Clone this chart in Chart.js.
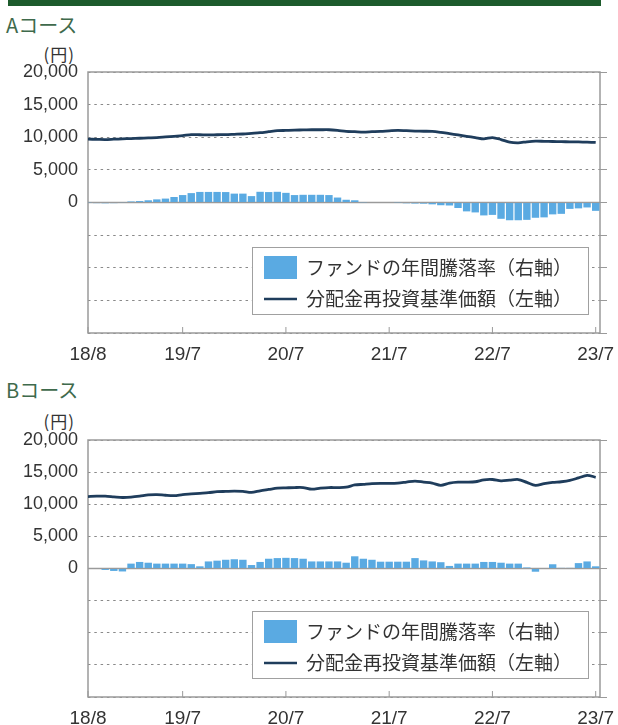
<!DOCTYPE html>
<html lang="ja">
<head>
<meta charset="utf-8">
<script src="https://cdn.jsdelivr.net/npm/chart.js@4.4.0/dist/chart.umd.min.js"></script>
<style>
  body { margin: 0; width: 618px; height: 725px; position: relative; overflow: hidden; background: #fff; font-family: "Noto Sans CJK JP", sans-serif; }
  .band { position: absolute; left: 8px; top: 0; width: 593px; height: 6px; background: #1d5b2c; }
  .course { position: absolute; left: 6px; font-size: 20px; line-height: 20px; color: #3f6a4c; }
  .unit { position: absolute; right: 543px; font-size: 17px; line-height: 17px; color: #333; letter-spacing: 1px; }
  canvas { position: absolute; left: 0; }
</style>
</head>
<body>
<div class="band"></div>
<div class="course" style="top:15px">Aコース</div>
<div class="unit" style="top:45px">(円)</div>
<canvas id="chartA" width="618" height="370" style="top:0"></canvas>
<div class="course" style="top:380px">Bコース</div>
<div class="unit" style="top:412px">(円)</div>
<canvas id="chartB" width="618" height="355" style="top:370px"></canvas>
<script>
// months 18/8 .. 23/7 (index 0..59)
const tickIdx = [0, 11, 23, 35, 47, 59];
const tickLabels = ['18/8', '19/7', '20/7', '21/7', '22/7', '23/7'];

const barLabel = 'ファンドの年間騰落率（右軸）';
const lineLabel = '分配金再投資基準価額（左軸）';

// Aコース 分配金再投資基準価額 (円)
const navA = [9700, 9680, 9650, 9700, 9750, 9800, 9850, 9900, 9950, 10050,
  10150, 10250, 10400, 10380, 10350, 10380, 10400, 10450, 10500, 10600,
  10700, 10850, 11000, 11050, 11100, 11120, 11150, 11150, 11150, 11050,
  10900, 10850, 10800, 10850, 10900, 10980, 11050, 11000, 10950, 10920,
  10900, 10750, 10550, 10350, 10150, 9950, 9750, 9950, 9650, 9250,
  9150, 9300, 9400, 9380, 9350, 9320, 9300, 9280, 9250, 9200];
// Aコース 年間騰落率 (%)
const retA = [-0.2, -0.5, -0.6, -0.5, 0.3, 0.8, 1.1, 1.7, 2.4, 3.0,
  4.2, 5.7, 7.2, 8.1, 8.1, 8.1, 8.0, 6.8, 6.8, 4.9,
  8.2, 8.0, 8.2, 7.4, 5.7, 5.9, 5.9, 5.9, 5.7, 3.8,
  2.1, 1.7, 0.2, 0, 0, 0, -0.2, -0.6, -0.8, -0.9,
  -1.4, -2.1, -2.3, -4.2, -6.8, -7.6, -9.9, -9.5, -12.5, -13.6,
  -13.6, -13.3, -11.7, -11.4, -9.1, -8.7, -4.9, -4.5, -3.8, -6.4];

// Bコース 分配金再投資基準価額 (円)
const navB = [11200, 11250, 11250, 11150, 11050, 11100, 11250, 11450, 11500, 11400,
  11350, 11500, 11600, 11700, 11800, 11950, 12000, 12050, 12000, 11850,
  12100, 12300, 12500, 12550, 12600, 12600, 12350, 12500, 12600, 12600,
  12650, 13000, 13100, 13200, 13250, 13250, 13300, 13450, 13600, 13450,
  13300, 12950, 13300, 13450, 13450, 13500, 13800, 13850, 13650, 13750,
  13850, 13400, 12950, 13200, 13400, 13500, 13700, 14100, 14500, 14200];
// Bコース 年間騰落率 (%)
const retB = [0, -0.4, -1.1, -1.9, -2.3, 3.8, 5.1, 4.5, 3.8, 3.8,
  3.8, 3.8, 3.4, 1.7, 5.5, 6.1, 6.8, 7.2, 6.8, 2.7,
  5.1, 7.6, 8.1, 8.3, 8.1, 7.6, 5.5, 5.5, 5.5, 5.5,
  4.5, 9.5, 7.6, 6.8, 5.3, 5.3, 5.3, 5.3, 8.1, 6.3,
  5.5, 4.9, 2.0, 3.8, 3.8, 3.8, 5.1, 5.1, 4.5, 3.8,
  3.8, 0.8, -2.5, 0.4, 3.3, 0.5, 0.5, 4.2, 5.5, 1.7];

const barColor = '#5aaae2';
const lineColor = '#1f3d5c';
const frameColor = '#9a9a9a';
const numFont = { family: 'Liberation Sans', size: 18 };

const framePlugin = {
  id: 'frame',
  beforeDatasetsDraw(chart) {
    const a = chart.chartArea, ctx = chart.ctx;
    const y0 = chart.scales.y.getPixelForValue(0);
    ctx.save();
    ctx.strokeStyle = frameColor;
    ctx.lineWidth = 1.5;
    ctx.strokeRect(a.left, a.top, a.right - a.left, a.bottom - a.top);
    ctx.beginPath();
    ctx.moveTo(a.left, y0);
    ctx.lineTo(a.right, y0);
    ctx.stroke();
    // x tick marks drawn inward
    ctx.lineWidth = 1;
    tickIdx.forEach(i => {
      const x = chart.scales.x.getPixelForValue(i);
      ctx.beginPath();
      ctx.moveTo(x, a.bottom);
      ctx.lineTo(x, a.bottom - 6);
      ctx.stroke();
    });
    ctx.restore();
  },
  afterDraw(chart) {
    const a = chart.chartArea, ctx = chart.ctx;
    const w = 336, h = 67;
    const x = a.right - 12 - w, y = a.bottom - 19 - h;
    const ds = chart.data.datasets;
    ctx.save();
    ctx.fillStyle = '#fff';
    ctx.fillRect(x, y, w, h);
    ctx.strokeStyle = '#a0a0a0';
    ctx.lineWidth = 1;
    ctx.strokeRect(x + 0.5, y + 0.5, w, h);
    ctx.fillStyle = barColor;
    ctx.fillRect(x + 12, y + 9, 33, 23);
    ctx.strokeStyle = lineColor;
    ctx.lineWidth = 2.5;
    ctx.beginPath();
    ctx.moveTo(x + 12, y + 52);
    ctx.lineTo(x + 45, y + 52);
    ctx.stroke();
    ctx.fillStyle = '#333';
    ctx.font = '19px "Noto Sans CJK JP"';
    ctx.textBaseline = 'middle';
    ctx.fillText(ds[1].label, x + 54, y + 21);
    ctx.fillText(ds[0].label, x + 54, y + 52);
    ctx.restore();
  }
};

function makeChart(id, nav, ret, padTop, xHeight) {
  return new Chart(document.getElementById(id), {
    type: 'bar',
    data: {
      datasets: [{
        type: 'line',
        label: lineLabel,
        data: nav.map((v, i) => ({ x: i, y: v })),
        yAxisID: 'y',
        borderColor: lineColor,
        borderWidth: 2.8,
        pointRadius: 0,
        tension: 0.3,
        order: 0
      }, {
        type: 'bar',
        label: barLabel,
        data: ret.map((v, i) => ({ x: i, y: v })),
        yAxisID: 'y1',
        backgroundColor: barColor,
        barPercentage: 0.86,
        categoryPercentage: 1,
        order: 1
      }]
    },
    options: {
      responsive: false,
      animation: false,
      layout: { padding: { top: padTop, left: 0, right: 0, bottom: 0 } },
      plugins: { legend: { display: false }, tooltip: { enabled: false } },
      scales: {
        x: {
          type: 'linear',
          offset: false,
          min: 0,
          max: 59.5,
          afterBuildTicks: s => { s.ticks = tickIdx.map(v => ({ value: v })); },
          afterFit: s => { s.height = xHeight; },
          grid: { display: false, drawTicks: true, tickLength: 10, offset: false },
          border: { display: false },
          ticks: {
            autoSkip: false,
            maxRotation: 0,
            padding: 0,
            color: '#333',
            font: { family: 'Liberation Sans', size: 19 },
            callback: v => tickLabels[tickIdx.indexOf(v)]
          }
        },
        y: {
          position: 'left',
          min: -20000,
          max: 20000,
          afterFit: s => { s.width = 88; },
          grid: { color: '#8a8a8a', lineWidth: 1, drawTicks: false },
          border: { display: false, dash: [2.5, 3.8] },
          ticks: {
            stepSize: 5000,
            padding: 10,
            color: '#333',
            font: numFont,
            callback: v => v < 0 ? '' : v.toLocaleString('en-US')
          }
        },
        y1: {
          position: 'right',
          min: -100,
          max: 100,
          afterFit: s => { s.width = 18; },
          grid: { drawOnChartArea: false, drawTicks: true, tickLength: 7, color: frameColor },
          border: { display: false },
          ticks: { stepSize: 25, display: false }
        }
      }
    },
    plugins: [framePlugin]
  });
}

makeChart('chartA', navA, retA, 72, 37);
makeChart('chartB', navB, retB, 70, 28);
</script>
</body>
</html>
